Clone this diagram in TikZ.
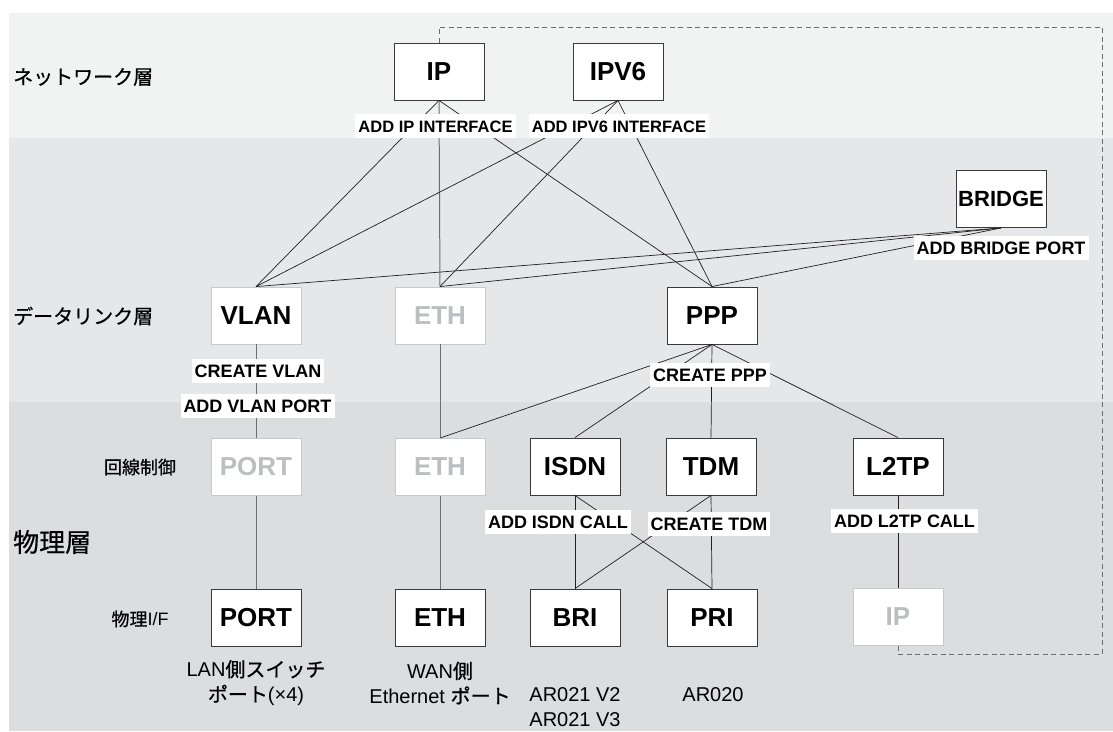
\documentclass[tikz,border=0pt]{standalone}
\usepackage{fontspec}
\setmainfont{Liberation Sans}
\newfontfamily\jp[FakeBold=0.6]{Noto Sans CJK JP}
\usetikzlibrary{calc}

\definecolor{bandnet}{HTML}{F1F2F2}
\definecolor{banddl}{HTML}{E6E7E8}
\definecolor{bandphy}{HTML}{DCDDDE}
\definecolor{boxline}{HTML}{3A3A3C}
\definecolor{dimline}{HTML}{C8C9CB}
\definecolor{dimtext}{HTML}{BCBEC0}
\definecolor{linecol}{HTML}{231F20}
\definecolor{vline}{HTML}{6D6E71}

\tikzset{
  box/.style={draw=boxline, fill=white, line width=0.9pt, minimum width=90pt,
    minimum height=57pt, inner sep=0pt, font=\fontsize{26}{30}\selectfont\bfseries},
  dimbox/.style={box, draw=dimline, text=dimtext},
  cmd/.style={fill=white, inner xsep=3pt, inner ysep=5.5pt, text height=13pt,
    text depth=0pt, font=\fontsize{18}{20}\selectfont\bfseries},
  link/.style={draw=linecol, line width=0.7pt},
  vlink/.style={draw=vline, line width=1pt},
  layer/.style={anchor=west, inner sep=0pt, font=\jp\fontsize{20}{24}\selectfont},
  sub/.style={inner sep=0pt, font=\fontsize{18}{22}\selectfont},
  note/.style={align=center, inner sep=0pt, font=\fontsize{20}{25}\selectfont}
}

\begin{document}
\begin{tikzpicture}[x=1pt, y=-1pt]
  \useasboundingbox (0,0) rectangle (1113,731);
  \fill[white] (0,0) rectangle (1113,731);
  % layer bands
  \fill[bandnet] (9,13) rectangle (1113,138);
  \fill[banddl] (9,138) rectangle (1113,402);
  \fill[bandphy] (9,402) rectangle (1113,731);

  \node[layer] (net) at (13,77) {ネットワーク層};
  \node[layer] (dl) at (13,316) {データリンク層};
  \node[layer, font=\jp\fontsize{26}{30}\selectfont] (phy) at (13,542) {物理層};
  \node[sub] (lc) at (140,467) {\jp 回線制御};
  \node[sub] (pif) at (140,619) {{\jp 物理}I/F};

  % network layer
  \node[box] (ip) at (439,71.5) {IP};
  \node[box] (ipv6) at (618,71.5) {IPV6};
  \node[box, font=\fontsize{22}{26}\selectfont\bfseries] (bridge) at (1001,199) {BRIDGE};

  % data link layer
  \node[box, draw=dimline] (vlan) at (256,315.5) {VLAN};
  \node[dimbox] (ethd) at (440,315.5) {ETH};
  \node[box] (ppp) at (712,315.5) {PPP};

  % line control
  \node[dimbox] (portc) at (256,467) {PORT};
  \node[dimbox] (ethc) at (440,467) {ETH};
  \node[box] (isdn) at (575,466.5) {ISDN};
  \node[box] (tdm) at (711,466.5) {TDM};
  \node[box] (l2tp) at (898,466.5) {L2TP};

  % physical i/f
  \node[box] (port) at (256,617.5) {PORT};
  \node[box] (eth) at (440,617.5) {ETH};
  \node[box] (bri) at (575,617.5) {BRI};
  \node[box] (pri) at (712,617.5) {PRI};
  \node[dimbox] (ipg) at (898,616.5) {IP};

  \node[note] (lan) at (256,683) {LAN{\jp 側スイッチ}\\{\jp ポート}(×4)};
  \node[note] (wan) at (440,683) {WAN{\jp 側}\\Ethernet {\jp ポート}};
  \node[note] (ar21) at (575,707) {AR021 V2\\AR021 V3};
  \node[note] (ar20) at (713,695) {AR020};

  % dashed frame
  \coordinate (dtr) at (1102,27);
  \coordinate (dbr) at (1102,654);
  \draw[vline, line width=0.9pt, dash pattern=on 5pt off 3.5pt]
    (ip.north) -- (ip.north |- dtr) -- (dtr) -- (dbr) -- (ipg.south |- dbr) -- (ipg.south);

  % links
  \draw[link] (ip.south) -- (vlan.north);
  \draw[vlink] (ip.south) -- (ethd.north);
  \draw[link] (ip.south) -- (ppp.north);
  \foreach \s in {ipv6,bridge} {
    \foreach \t in {vlan,ethd,ppp} {
      \draw[link] (\s.south) -- (\t.north);
    }
  }
  \foreach \t in {ethc,isdn,tdm,l2tp}
    \draw[link] (ppp.south) -- (\t.north);
  \foreach \s in {isdn,tdm} {
    \foreach \t in {bri,pri} {
      \draw[link] (\s.south) -- (\t.north);
    }
  }
  \draw[link] (l2tp.south) -- (ipg.north);
  \draw[vlink] (vlan.south) -- (portc.north);
  \draw[vlink] (portc.south) -- (port.north);
  \draw[vlink] (ethd.south) -- (ethc.north);
  \draw[vlink] (ethc.south) -- (eth.north);

  % commands
  \node[cmd, font=\fontsize{16.5}{20}\selectfont\bfseries] (cip) at (435.5,125.5) {ADD IP INTERFACE};
  \node[cmd, font=\fontsize{16.5}{20}\selectfont\bfseries] (cipv6) at (619,125.5) {ADD IPV6 INTERFACE};
  \node[cmd] (cbridge) at (1001,248) {ADD BRIDGE PORT};
  \node[cmd] (cvlan) at (258,371) {CREATE VLAN};
  \node[cmd] (cvport) at (257.5,405.5) {ADD VLAN PORT};
  \node[cmd] (cppp) at (710,374.5) {CREATE PPP};
  \node[cmd] (cisdn) at (558,521.5) {ADD ISDN CALL};
  \node[cmd] (ctdm) at (709,524) {CREATE TDM};
  \node[cmd] (cl2tp) at (904.5,521) {ADD L2TP CALL};
\end{tikzpicture}
\end{document}
